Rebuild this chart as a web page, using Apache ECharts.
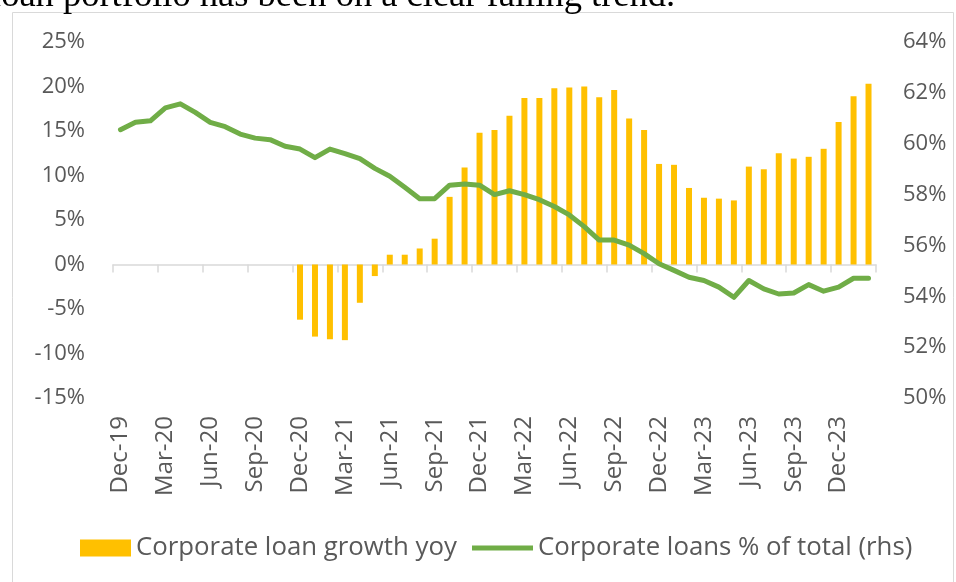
<!DOCTYPE html>
<html>
<head>
<meta charset="utf-8">
<script src="https://cdn.jsdelivr.net/npm/echarts@6/dist/echarts.min.js"></script>
<style>
  html, body { margin: 0; padding: 0; background: #ffffff; }
  #chart { width: 956px; height: 582px; }
</style>
</head>
<body>
<div id="chart"></div>
<script>
// Monthly observations, Dec-19 .. Feb-24
const months = [
  'Dec-19','Jan-20','Feb-20','Mar-20','Apr-20','May-20','Jun-20','Jul-20','Aug-20','Sep-20','Oct-20','Nov-20',
  'Dec-20','Jan-21','Feb-21','Mar-21','Apr-21','May-21','Jun-21','Jul-21','Aug-21','Sep-21','Oct-21','Nov-21',
  'Dec-21','Jan-22','Feb-22','Mar-22','Apr-22','May-22','Jun-22','Jul-22','Aug-22','Sep-22','Oct-22','Nov-22',
  'Dec-22','Jan-23','Feb-23','Mar-23','Apr-23','May-23','Jun-23','Jul-23','Aug-23','Sep-23','Oct-23','Nov-23',
  'Dec-23','Jan-24','Feb-24'
];

// Corporate loan growth, % yoy (left axis)
const loanGrowth = [
  null, null, null, null, null, null, null, null, null, null, null, null,
  -6.2, -8.1, -8.4, -8.5, -4.3, -1.3, 1.1, 1.1, 1.8, 2.9, 7.6, 10.9,
  14.8, 15.1, 16.7, 18.7, 18.7, 19.8, 19.9, 20.0, 18.8, 19.6, 16.4, 15.1,
  11.3, 11.2, 8.6, 7.5, 7.4, 7.2, 11.0, 10.7, 12.5, 11.9, 12.1, 13.0,
  16.0, 18.9, 20.3
];

// Corporate loans as % of total loans (right axis)
const loanShare = [
  60.55, 60.84, 60.90, 61.41, 61.57, 61.23, 60.84, 60.67, 60.38, 60.22, 60.16, 59.90,
  59.79, 59.45, 59.79, 59.61, 59.41, 59.03, 58.72, 58.29, 57.84, 57.84, 58.37, 58.42,
  58.37, 58.00, 58.15, 58.00, 57.80, 57.53, 57.20, 56.74, 56.21, 56.21, 56.01, 55.68,
  55.28, 55.02, 54.75, 54.62, 54.36, 53.96, 54.62, 54.29, 54.09, 54.13, 54.46, 54.20,
  54.36, 54.71, 54.71
];

const seriesNames = ['Corporate loan growth yoy', 'Corporate loans % of total (rhs)'];
const leftTicks = { min: -15, max: 25, step: 5 };
const rightTicks = { min: 50, max: 64, step: 2 };
const headline = 'loan portfolio has been on a clear falling trend.';

const FONT = '"Open Sans", "Noto Sans", sans-serif';
const TEXT = '#595959';
const AXIS = '#D9D9D9';

const chart = echarts.init(document.getElementById('chart'), null, { renderer: 'canvas' });

chart.setOption({
  animation: false,
  backgroundColor: '#ffffff',
  textStyle: { fontFamily: FONT },
  graphic: [
    {
      type: 'rect',
      shape: { x: 12.5, y: 12.5, width: 941, height: 580 },
      style: { fill: 'none', stroke: '#D9D9D9', lineWidth: 1 },
      silent: true
    },
    {
      type: 'text',
      left: -9,
      top: -22,
      style: {
        text: headline,
        fontFamily: '"Liberation Serif", "Times New Roman", serif',
        fontSize: 36.5,
        fill: '#000000'
      },
      silent: true
    }
  ],
  grid: { left: 113, right: 80, top: 42, bottom: 184 },
  legend: [
    {
      data: [seriesNames[0]],
      left: 80,
      top: 533,
      padding: 0,
      itemWidth: 51,
      itemHeight: 17,
      icon: 'rect',
      textStyle: { color: TEXT, fontSize: 25.8, fontFamily: FONT, lineHeight: 30 }
    },
    {
      data: [seriesNames[1]],
      left: 472,
      top: 533,
      padding: 0,
      itemWidth: 61,
      itemHeight: 5,
      icon: 'rect',
      textStyle: { color: TEXT, fontSize: 25.8, fontFamily: FONT, lineHeight: 30 }
    }
  ],
  xAxis: [
    {
      type: 'category',
      data: months,
      position: 'bottom',
      boundaryGap: true,
      axisLine: { show: true, onZero: true, lineStyle: { color: AXIS, width: 1.5 } },
      axisTick: { show: true, interval: 2, length: 8, lineStyle: { color: AXIS, width: 1.5 } },
      axisLabel: { show: false },
      splitLine: { show: false }
    },
    {
      type: 'category',
      data: months,
      position: 'bottom',
      boundaryGap: true,
      axisLine: { show: false, onZero: false },
      axisTick: { show: false },
      axisLabel: {
        show: true,
        interval: 2,
        rotate: 90,
        margin: 18,
        color: TEXT,
        fontSize: 24,
        fontFamily: FONT
      },
      splitLine: { show: false }
    }
  ],
  yAxis: [
    {
      type: 'value',
      min: leftTicks.min,
      max: leftTicks.max,
      interval: leftTicks.step,
      position: 'left',
      axisLine: { show: false },
      axisTick: { show: false },
      splitLine: { show: false },
      axisLabel: {
        formatter: '{value}%',
        color: TEXT,
        fontSize: 22,
        fontFamily: FONT,
        margin: 28
      }
    },
    {
      type: 'value',
      min: rightTicks.min,
      max: rightTicks.max,
      interval: rightTicks.step,
      position: 'right',
      axisLine: { show: false },
      axisTick: { show: false },
      splitLine: { show: false },
      axisLabel: {
        formatter: '{value}%',
        color: TEXT,
        fontSize: 22,
        fontFamily: FONT,
        margin: 27
      }
    }
  ],
  series: [
    {
      name: seriesNames[0],
      type: 'bar',
      xAxisIndex: 0,
      yAxisIndex: 0,
      data: loanGrowth,
      barWidth: 6,
      itemStyle: { color: '#FFC000' }
    },
    {
      name: seriesNames[1],
      type: 'line',
      xAxisIndex: 0,
      yAxisIndex: 1,
      data: loanShare,
      symbol: 'none',
      smooth: false,
      lineStyle: { color: '#70AD47', width: 5, join: 'round', cap: 'round' },
      itemStyle: { color: '#70AD47' },
      z: 3
    }
  ]
});
</script>
</body>
</html>
